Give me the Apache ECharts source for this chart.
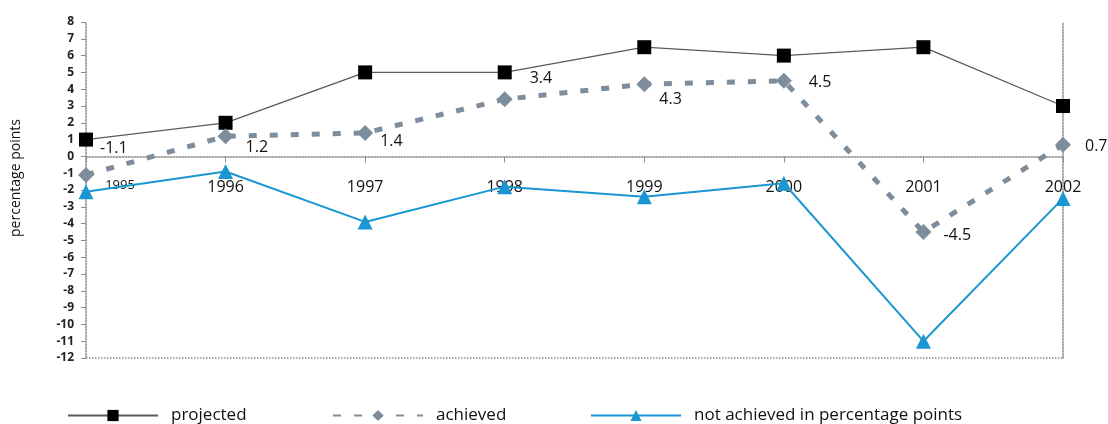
<!DOCTYPE html>
<html>
<head>
<meta charset="utf-8">
<script src="https://cdn.jsdelivr.net/npm/echarts@6/dist/echarts.min.js"></script>
<style>
  html, body { margin: 0; padding: 0; background: #fff; }
  #chart { width: 1108px; height: 424px; }
</style>
</head>
<body>
<div id="chart"></div>
<script>
// Budget balance targets versus outcomes, percentage points
const years = ['1995', '1996', '1997', '1998', '1999', '2000', '2001', '2002'];
const projected = [1, 2, 5, 5, 6.5, 6, 6.5, 3];
const achieved = [-1.1, 1.2, 1.4, 3.4, 4.3, 4.5, -4.5, 0.7];
const notAchieved = [-2.1, -0.9, -3.9, -1.8, -2.4, -1.6, -11, -2.5];

const seriesNames = ['projected', 'achieved', 'not achieved in percentage points'];
const yRange = { min: -12, max: 8, step: 1 };

// Per-point nudges for the value labels on the "achieved" line
const achievedLabelShift = [[6, -26], [12, 11], [7, 9], [17, -21], [7, 15], [17, 2], [12, 3], [14, 2]];

const FONT = "'Open Sans', 'Noto Sans', sans-serif";
const axisGrey = { color: '#8c8c8c', type: 'dotted', width: 1.5 };

const chart = echarts.init(document.getElementById('chart'), null, { renderer: 'canvas' });

const achievedData = achieved.map((v, i) => ({
  value: v,
  label: { offset: achievedLabelShift[i] }
}));

const legendBase = {
  top: 402,
  itemWidth: 90,
  itemHeight: 14,
  textStyle: { fontFamily: FONT, fontSize: 17, color: '#111', padding: [0, 0, 0, 8] }
};

chart.setOption({
  animation: false,
  backgroundColor: '#fff',
  grid: { left: 86, right: 45, top: 22, bottom: 66, containLabel: false },
  legend: [
    Object.assign({ left: 62, data: [seriesNames[0]] }, legendBase),
    Object.assign({ left: 327, data: [seriesNames[1]] }, legendBase),
    Object.assign({ left: 585, data: [seriesNames[2]] }, legendBase)
  ],
  // category axis runs along the zero line; year labels are lifted up to sit just below it
  xAxis: {
    type: 'category',
    data: years,
    boundaryGap: false,
    axisLine: { onZero: true, lineStyle: axisGrey },
    axisTick: { show: true, length: 6, inside: false, lineStyle: { color: '#8c8c8c' } },
    axisLabel: {
      interval: 0,
      margin: -179,
      fontFamily: FONT,
      fontSize: 16,
      color: '#111',
      formatter: (v, i) => (i === 0 ? '{first|' + v + '}' : v),
      rich: { first: { fontFamily: FONT, fontSize: 13, color: '#111', padding: [0, 0, 0, 68] } }
    },
    splitLine: { show: false }
  },
  yAxis: [
    {
      type: 'value',
      min: yRange.min,
      max: yRange.max,
      interval: yRange.step,
      name: 'percentage points',
      nameLocation: 'middle',
      nameGap: 63,
      nameRotate: 90,
      nameTextStyle: { fontFamily: FONT, fontSize: 14, color: '#111', padding: [0, 0, 0, 24] },
      axisLine: { show: true, onZero: false, lineStyle: axisGrey },
      axisTick: { show: true, length: 5, lineStyle: { color: '#8c8c8c' } },
      axisLabel: { margin: 12, fontFamily: FONT, fontSize: 12, fontWeight: 'bold', color: '#222' },
      splitLine: { show: false }
    },
    {
      type: 'value',
      min: yRange.min,
      max: yRange.max,
      interval: yRange.step,
      position: 'right',
      axisLine: { show: true, onZero: false, lineStyle: axisGrey },
      axisTick: { show: false },
      axisLabel: { show: false },
      splitLine: { show: false }
    }
  ],
  series: [
    {
      name: seriesNames[0],
      type: 'line',
      data: projected,
      symbol: 'rect',
      symbolSize: 14,
      itemStyle: { color: '#000' },
      lineStyle: { color: '#5a5a5a', width: 1.3 },
      z: 3
    },
    {
      name: seriesNames[1],
      type: 'line',
      data: achievedData,
      symbol: 'diamond',
      symbolSize: 16,
      itemStyle: { color: '#7d8d9b' },
      lineStyle: { color: '#7d8d9b', width: 5, type: [8, 13] },
      label: {
        show: true,
        position: 'right',
        distance: 0,
        fontFamily: FONT,
        fontSize: 16,
        color: '#111',
        formatter: p => String(p.value)
      },
      z: 4
    },
    {
      name: seriesNames[2],
      type: 'line',
      data: notAchieved,
      symbol: 'triangle',
      symbolSize: 15,
      itemStyle: { color: '#1a97d2' },
      lineStyle: { color: '#1a97d2', width: 2 },
      // dotted frame line along the bottom of the plot
      markLine: {
        silent: true,
        symbol: ['none', 'none'],
        label: { show: false },
        lineStyle: axisGrey,
        data: [{ yAxis: yRange.min }]
      },
      z: 2
    }
  ]
});
</script>
</body>
</html>
